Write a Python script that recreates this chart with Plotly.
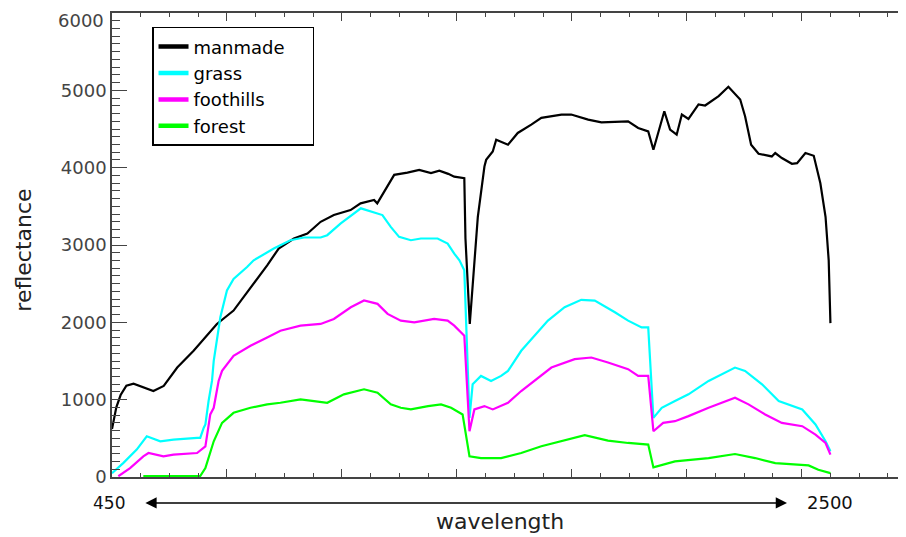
import plotly.graph_objects as go

# ---- data (band index along the spectrum, reflectance values) ----
band_manmade = [0, 1.5, 3, 5, 7.5, 9.8, 14.4, 18, 22.7, 28.4, 36.5, 42.3, 48.1, 54, 58, 63.3, 68,
                72.6, 77.2, 83, 86.5, 91.2, 92.3, 98.2, 102.8, 106.9, 111, 113.9, 117, 119.1, 122.6,
                123.0, 124.5, 126.1, 127.3, 129.6, 130.2, 132.5, 133.7, 137.8, 141.2, 145.9, 149.4,
                156.4, 159.8, 165.7, 170.3, 179.6, 183.1, 186.6, 188.4, 192.2, 194.2, 196.5, 198.3,
                200.6, 204.1, 206.4, 211.1, 214.5, 218.6, 220.3, 222.4, 225, 229.6, 230.8, 233.1,
                236.6, 238.4, 241.3, 244.2, 246.5, 248.3, 249.4, 250]
manmade = [620, 900, 1060, 1180, 1207, 1177, 1112, 1177, 1415, 1632, 1979, 2152, 2434, 2737, 2954,
           3084, 3149, 3300, 3387, 3452, 3539, 3582, 3539, 3907, 3936, 3972, 3929, 3962, 3920, 3884,
           3864, 3084, 1979, 2714, 3364, 4014, 4101, 4209, 4361, 4296, 4449, 4556, 4644, 4687, 4687,
           4622, 4586, 4599, 4513, 4469, 4232, 4729, 4492, 4427, 4687, 4630, 4817, 4804, 4925, 5047,
           4882, 4665, 4297, 4180, 4145, 4189, 4124, 4050, 4059, 4189, 4154, 3799, 3365, 2802, 1990]

band_grass = [0, 3.9, 8.6, 12.1, 16.8, 21.4, 29.6, 30.7, 31.9, 32.5, 33.6, 34.8, 35.4, 37.7, 40,
              42.3, 47, 49.3, 56.3, 62.1, 66.8, 72.6, 74.9, 79.6, 86.6, 90, 94.1, 97, 99.9, 104,
              107.5, 113.3, 116.8, 119.1, 120.9, 122.6, 124.4, 125.5, 128.4, 131.9, 135.4, 137.8,
              142.4, 151.7, 157.5, 163.3, 168, 175, 179.6, 184.3, 186.6, 188.4, 191.3, 195.9, 200.6,
              207.6, 216.8, 220.3, 226.2, 232, 240.2, 244.8, 248.3, 250]
grass = [50, 180, 354, 527, 462, 484, 505, 505, 635, 679, 982, 1242, 1502, 2065, 2412, 2560, 2716,
         2802, 2954, 3062, 3097, 3097, 3127, 3279, 3474, 3430, 3387, 3235, 3105, 3062, 3084, 3084,
         3019, 2889, 2802, 2672, 765, 1199, 1307, 1242, 1307, 1372, 1632, 2022, 2195, 2291, 2282,
         2130, 2022, 1935, 1935, 765, 895, 982, 1069, 1242, 1415, 1372, 1199, 982, 874, 679, 462, 332]

band_foothills = [2.2, 6.3, 10.9, 12.7, 17.9, 21.4, 29.6, 32.5, 34.2, 35.4, 37.1, 38.3, 42.3, 48.2,
                  54, 58.6, 65.6, 72.6, 77.2, 83.1, 87.7, 92.4, 95.9, 100.5, 105.2, 112.1, 116.8,
                  119.1, 122.6, 124.4, 126.1, 129.6, 132.5, 137.8, 142.4, 152.9, 161, 166.8, 172.6,
                  179.6, 183.1, 186.6, 188.4, 191.8, 195.9, 200.6, 207.6, 216.8, 221.5, 227.3, 233.1,
                  240.2, 244.8, 248.3, 250]
foothills = [10, 115, 267, 310, 267, 289, 310, 397, 809, 895, 1242, 1372, 1567, 1697, 1805, 1892,
             1957, 1979, 2044, 2195, 2282, 2239, 2109, 2022, 2000, 2044, 2022, 1957, 1827, 592, 874,
             917, 874, 960, 1112, 1415, 1524, 1545, 1480, 1394, 1307, 1307, 592, 700, 722, 787, 895,
             1025, 939, 809, 700, 657, 549, 440, 289]

band_forest = [10.9, 30.7, 32.5, 35.4, 38.3, 42.3, 48.2, 54, 58.6, 65.6, 70.3, 74.9, 80.7, 87.7,
               92.4, 97, 100.5, 104, 110, 114.5, 118, 122, 124.4, 128.4, 135.4, 142.4, 149.4, 156.4,
               164.5, 172.6, 179.6, 186.6, 188.4, 195.9, 207.6, 216.8, 223.8, 230.8, 242.4, 245.8, 250]
forest = [12, 12, 115, 462, 700, 830, 895, 939, 960, 1004, 982, 960, 1069, 1134, 1090, 939, 895,
          874, 917, 939, 895, 809, 267, 245, 245, 310, 397, 462, 540, 471, 440, 419, 124, 202, 245,
          297, 245, 180, 150, 94, 50]

series_names = ["manmade", "grass", "foothills", "forest"]
series_colors = ["#000000", "#00FFFF", "#FF00FF", "#00FF00"]
series_x = [band_manmade, band_grass, band_foothills, band_forest]
series_y = [manmade, grass, foothills, forest]

y_tickvals = [0, 1000, 2000, 3000, 4000, 5000]
y_top_label = "6000"
wl_start_label, wl_end_label = "450", "2500"
wl_end_band = 250
arrow_left_band, arrow_right_band = 11.1, 234.9

FONT = "DejaVu Sans"
PAD = "\u00a0" * 4   # widen legend box a little

fig = go.Figure()
for name, xs, ys, col in zip(series_names, series_x, series_y, series_colors):
    fig.add_trace(go.Scatter(x=xs, y=ys, mode="lines", line=dict(color=col, width=2.2),
                             showlegend=False, hoverinfo="skip"))
for i, (name, col) in enumerate(zip(series_names, series_colors)):
    fig.add_trace(go.Scatter(x=[None], y=[None], mode="lines", line=dict(color=col, width=4.5),
                             name=name + (PAD if i == 0 else ""), legendgroup=name,
                             showlegend=True))

# page body has an 8px margin: the figure is sized/offset to compensate
fig.update_layout(
    width=898, height=529,
    margin=dict(l=104, r=0, t=5, b=60),
    paper_bgcolor="white", plot_bgcolor="white",
    showlegend=True,
    legend=dict(x=0.0504, y=0.970, xanchor="left", yanchor="top",
                bordercolor="black", borderwidth=1.5, bgcolor="white",
                font=dict(family=FONT, size=18, color="black"),
                tracegroupgap=7, traceorder="normal"),
    xaxis=dict(range=[0, 276.3], showgrid=False, zeroline=False,
               showline=True, linecolor="#444", linewidth=1.5, mirror="ticks",
               ticks="inside", ticklen=8, tickwidth=1.2, tickcolor="#444",
               tick0=0, dtick=40, showticklabels=False,
               minor=dict(dtick=10, ticks="inside", ticklen=4, tickcolor="#444", tickwidth=1.2)),
    yaxis=dict(range=[0, 6000], showgrid=False, zeroline=False,
               showline=True, linecolor="#444", linewidth=1.5,
               ticks="inside", ticklen=15, tickwidth=1.2, tickcolor="#444",
               tickmode="array", tickvals=y_tickvals + [6000],
               ticktext=[str(v) for v in y_tickvals] + [""],
               tickfont=dict(family=FONT, size=18, color="#444"),
               minor=dict(dtick=100, tick0=0, ticks="inside", ticklen=8, tickcolor="#444",
                          tickwidth=1.2)),
    yaxis2=dict(range=[0, 6000], overlaying="y", side="right", anchor="x",
                showgrid=False, zeroline=False, showline=False,
                ticks="inside", ticklen=6, tickwidth=1.2, tickcolor="#444",
                tick0=0, dtick=1000, showticklabels=False),
)

fig.add_annotation(text=y_top_label, xref="paper", yref="paper", x=0, y=1,
                   xanchor="right", yanchor="middle", xshift=-6, yshift=-7,
                   showarrow=False, font=dict(family=FONT, size=18, color="#444"))
fig.add_annotation(text="reflectance", xref="paper", yref="paper", x=-0.112, y=0.488,
                   textangle=-90, showarrow=False, xanchor="center", yanchor="middle",
                   font=dict(family=FONT, size=22, color="#222"))
fig.add_annotation(text="wavelength", xref="paper", yref="paper", x=(500 - 112) / 794, y=-0.095,
                   showarrow=False, xanchor="center", yanchor="middle",
                   font=dict(family=FONT, size=22, color="#222"))
fig.add_annotation(text=wl_start_label, xref="paper", yref="paper", x=-0.004, y=-0.056,
                   showarrow=False, xanchor="center", yanchor="middle",
                   font=dict(family=FONT, size=17, color="#111"))
fig.add_annotation(text=wl_end_label, xref="x", yref="paper", x=wl_end_band, y=-0.056,
                   showarrow=False, xanchor="center", yanchor="middle",
                   font=dict(family=FONT, size=18, color="#111"))
fig.add_annotation(text="", xref="x", yref="paper", x=arrow_right_band, y=-0.056,
                   axref="x", ayref="pixel", ax=arrow_left_band, ay=0,
                   showarrow=True, arrowside="end+start", arrowhead=2, startarrowhead=2,
                   arrowsize=1.5, startarrowsize=1.5, arrowwidth=1.5, arrowcolor="black")

fig.write_html("out.html")
